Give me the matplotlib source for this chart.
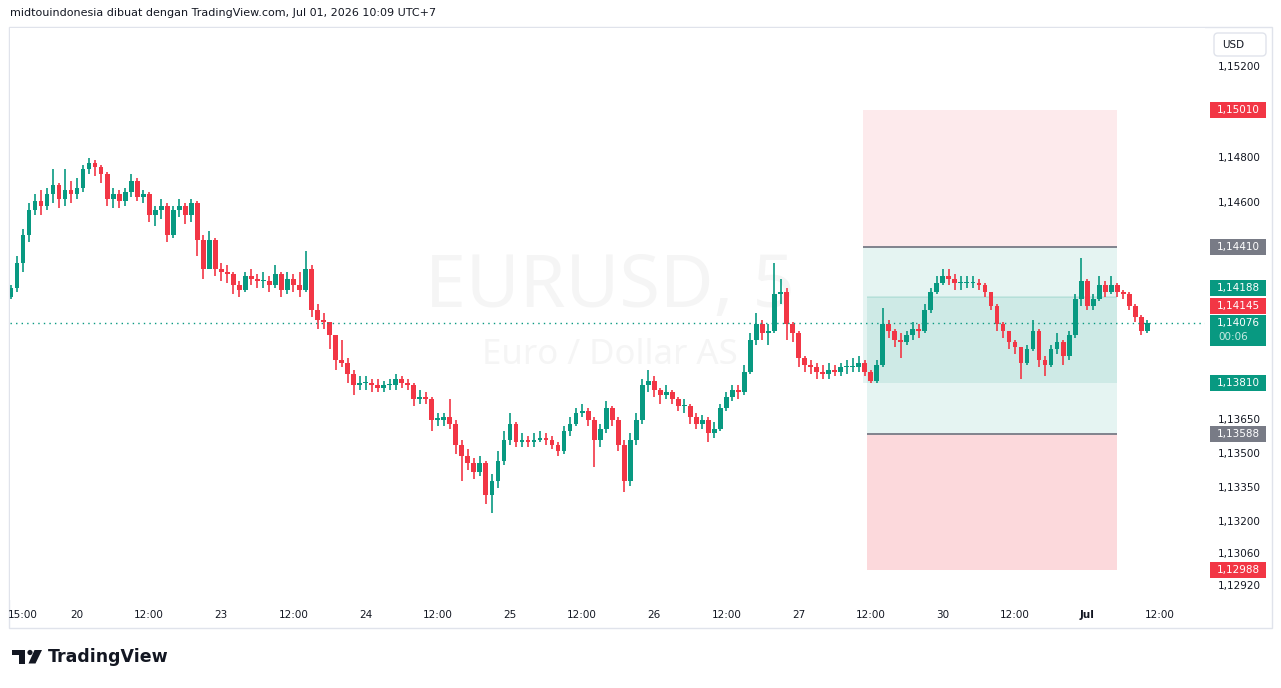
import numpy as np
import matplotlib
matplotlib.use("Agg")
import matplotlib.pyplot as plt
from matplotlib.patches import Rectangle, Polygon, Circle, FancyBboxPatch

# EURUSD, hourly candles (Jun 19 13:00 -> Jul 1 10:00, UTC+7)
first_open = 1.1419
close = [
    1.1423, 1.1434, 1.1446, 1.1457, 1.1461, 1.1459, 1.1464, 1.1468, 1.1462, 1.1466,
    1.1464, 1.1467, 1.1475, 1.1478, 1.1476, 1.1473, 1.1462, 1.1464, 1.1461, 1.1465,
    1.1470, 1.1463, 1.1464, 1.1455, 1.1457, 1.1459, 1.1446, 1.1457, 1.1459, 1.1455,
    1.1460, 1.1444, 1.1431, 1.1444, 1.1431, 1.1430, 1.1429, 1.1424, 1.1422, 1.1428,
    1.1427, 1.1426, 1.1426, 1.1424, 1.1429, 1.1422, 1.1427, 1.1424, 1.1422, 1.1431,
    1.1413, 1.1409, 1.1408, 1.1402, 1.1391, 1.1390, 1.1385, 1.1380, 1.1381, 1.1381,
    1.1380, 1.1379, 1.1380, 1.1380, 1.1383, 1.1381, 1.1380, 1.1374, 1.1375, 1.1374,
    1.1365, 1.1365, 1.1366, 1.1363, 1.1354, 1.1349, 1.1346, 1.1342, 1.1346, 1.1332,
    1.1338, 1.1347, 1.1356, 1.1363, 1.1355, 1.1356, 1.1355, 1.1356, 1.1357, 1.1356,
    1.1354, 1.1351, 1.1360, 1.1363, 1.1368, 1.1369, 1.1365, 1.1356, 1.1361, 1.1370,
    1.1365, 1.1354, 1.1338, 1.1356, 1.1365, 1.1380, 1.1382, 1.1378, 1.1376, 1.1377,
    1.1374, 1.1371, 1.1371, 1.1366, 1.1363, 1.1365, 1.1359, 1.1361, 1.1370, 1.1375,
    1.1378, 1.1377, 1.1386, 1.1400, 1.1407, 1.1403, 1.1404, 1.1420, 1.1421, 1.1407,
    1.1403, 1.1392, 1.1389, 1.1388, 1.1386, 1.1385, 1.1387, 1.1386, 1.1388, 1.1388,
    1.1388, 1.1390, 1.1386, 1.1382, 1.1389, 1.1407, 1.1404, 1.1400, 1.1399, 1.1402,
    1.1405, 1.1404, 1.1413, 1.1421, 1.1425, 1.1428, 1.1427, 1.1425, 1.1425, 1.1425,
    1.1425, 1.1424, 1.1421, 1.1415, 1.1407, 1.1404, 1.1399, 1.1397, 1.1390, 1.1396,
    1.1404, 1.1391, 1.1389, 1.1396, 1.1399, 1.1393, 1.1402, 1.1418, 1.1426, 1.1415,
    1.1418, 1.1424, 1.1421, 1.1424, 1.1421, 1.1420, 1.1415, 1.1410, 1.1404, 1.14076,
]
high = [
    1.1424, 1.1437, 1.1449, 1.1460, 1.1464, 1.1466, 1.1467, 1.1475, 1.1469, 1.1475,
    1.1470, 1.1471, 1.1477, 1.1480, 1.1479, 1.1477, 1.1474, 1.1467, 1.1466, 1.1467,
    1.1473, 1.1471, 1.1466, 1.1465, 1.1459, 1.1462, 1.1460, 1.1459, 1.1462, 1.1460,
    1.1462, 1.1461, 1.1446, 1.1448, 1.1445, 1.1434, 1.1433, 1.1430, 1.1426, 1.1430,
    1.1431, 1.1429, 1.1430, 1.1428, 1.1433, 1.1430, 1.1430, 1.1429, 1.1430, 1.1439,
    1.1433, 1.1416, 1.1412, 1.1408, 1.1402, 1.1400, 1.1392, 1.1387, 1.1384, 1.1384,
    1.1383, 1.1383, 1.1382, 1.1383, 1.1385, 1.1384, 1.1383, 1.1381, 1.1378, 1.1377,
    1.1375, 1.1368, 1.1368, 1.1374, 1.1365, 1.1356, 1.1352, 1.1348, 1.1349, 1.1347,
    1.1341, 1.1351, 1.1360, 1.1368, 1.1364, 1.1359, 1.1358, 1.1359, 1.1360, 1.1359,
    1.1358, 1.1355, 1.1362, 1.1366, 1.1370, 1.1372, 1.1370, 1.1366, 1.1363, 1.1373,
    1.1371, 1.1366, 1.1356, 1.1359, 1.1368, 1.1383, 1.1387, 1.1384, 1.1379, 1.1380,
    1.1378, 1.1375, 1.1374, 1.1372, 1.1368, 1.1367, 1.1366, 1.1364, 1.1372, 1.1377,
    1.1380, 1.1380, 1.1389, 1.1403, 1.1412, 1.1409, 1.1407, 1.1434, 1.1427, 1.1423,
    1.1408, 1.1404, 1.1393, 1.1391, 1.1390, 1.1389, 1.1390, 1.1389, 1.1390, 1.1391,
    1.1392, 1.1393, 1.1391, 1.1387, 1.1391, 1.1414, 1.1409, 1.1405, 1.1403, 1.1404,
    1.1408, 1.1407, 1.1416, 1.1423, 1.1428, 1.1431, 1.1431, 1.1429, 1.1428, 1.1428,
    1.1428, 1.1427, 1.1425, 1.1421, 1.1416, 1.1408, 1.1404, 1.1400, 1.1397, 1.1398,
    1.1409, 1.1405, 1.1393, 1.1398, 1.1403, 1.1400, 1.1404, 1.1420, 1.1436, 1.1427,
    1.1420, 1.1428, 1.1426, 1.1428, 1.1425, 1.1422, 1.1421, 1.1416, 1.1411, 1.1409,
]
low = [
    1.1418, 1.1421, 1.1430, 1.1443, 1.1455, 1.1455, 1.1457, 1.1460, 1.1458, 1.1459,
    1.1460, 1.1462, 1.1465, 1.1473, 1.1472, 1.1469, 1.1459, 1.1458, 1.1458, 1.1459,
    1.1463, 1.1461, 1.1460, 1.1452, 1.1450, 1.1453, 1.1443, 1.1445, 1.1454, 1.1451,
    1.1452, 1.1437, 1.1427, 1.1432, 1.1428, 1.1426, 1.1425, 1.1420, 1.1419, 1.1421,
    1.1424, 1.1423, 1.1423, 1.1421, 1.1423, 1.1419, 1.1420, 1.1421, 1.1419, 1.1421,
    1.1410, 1.1405, 1.1405, 1.1396, 1.1387, 1.1388, 1.1381, 1.1376, 1.1378, 1.1378,
    1.1377, 1.1377, 1.1377, 1.1378, 1.1378, 1.1379, 1.1378, 1.1371, 1.1372, 1.1372,
    1.1360, 1.1362, 1.1362, 1.1361, 1.1350, 1.1338, 1.1343, 1.1339, 1.1340, 1.1328,
    1.1324, 1.1335, 1.1345, 1.1354, 1.1353, 1.1353, 1.1353, 1.1353, 1.1355, 1.1354,
    1.1352, 1.1349, 1.1350, 1.1358, 1.1362, 1.1366, 1.1362, 1.1344, 1.1353, 1.1359,
    1.1362, 1.1351, 1.1333, 1.1336, 1.1354, 1.1363, 1.1377, 1.1375, 1.1372, 1.1374,
    1.1372, 1.1369, 1.1368, 1.1363, 1.1361, 1.1361, 1.1355, 1.1357, 1.1360, 1.1369,
    1.1373, 1.1374, 1.1376, 1.1385, 1.1398, 1.1400, 1.1398, 1.1403, 1.1416, 1.1400,
    1.1399, 1.1388, 1.1386, 1.1385, 1.1383, 1.1383, 1.1383, 1.1384, 1.1384, 1.1385,
    1.1386, 1.1386, 1.1384, 1.1381, 1.1381, 1.1388, 1.1401, 1.1397, 1.1392, 1.1398,
    1.1400, 1.1401, 1.1403, 1.1412, 1.1420, 1.1424, 1.1424, 1.1422, 1.1422, 1.1423,
    1.1423, 1.1422, 1.1419, 1.1413, 1.1404, 1.1401, 1.1396, 1.1394, 1.1383, 1.1389,
    1.1395, 1.1388, 1.1384, 1.1388, 1.1394, 1.1389, 1.1391, 1.1401, 1.1415, 1.1413,
    1.1413, 1.1417, 1.1419, 1.1420, 1.1419, 1.1418, 1.1413, 1.1408, 1.1402, 1.1403,
]

tick_pos = [2, 11, 23, 35, 47, 59, 71, 83, 95, 107, 119, 131, 143, 155, 167, 179, 191]
tick_lab = ["15:00", "20", "12:00", "23", "12:00", "24", "12:00", "25", "12:00",
            "26", "12:00", "27", "12:00", "30", "12:00", "Jul", "12:00"]
price_ticks = [1.15200, 1.14800, 1.14600, 1.13650, 1.13500, 1.13350, 1.13200, 1.13060, 1.12920]

# position tools (short on top, long below)
short_entry, short_stop, short_target = 1.14410, 1.15010, 1.13810
long_entry, long_stop, long_target = 1.13588, 1.12988, 1.14188
short_span = (141.7, 183.9)
long_span = (142.4, 183.9)
last_price = 1.14076
prev_close = 1.14145
countdown = "00:06"

GREEN = "#089981"
RED = "#F23645"
GREY = "#787B86"
TXT = "#131722"

W, H = 1281, 688
fig = plt.figure(figsize=(W / 100, H / 100), dpi=100)
fig.patch.set_facecolor("white")

ylim = (1.128571, 1.153714)
ax = fig.add_axes([10 / W, 88 / H, 1195 / W, 572 / H])
ax.set_xlim(-0.15, 198.6)
ax.set_ylim(*ylim)
for s in ax.spines.values():
    s.set_visible(False)
ax.set_yticks([])
ax.set_xticks(tick_pos, tick_lab)
ax.tick_params(axis="x", length=0, pad=7, labelsize=7.5, labelcolor=TXT)
for lab in ax.get_xticklabels():
    if lab.get_text() == "Jul":
        lab.set_fontweight("bold")

# watermark
ax.text(0.502, 0.545, "EURUSD, 5", transform=ax.transAxes, ha="center", va="center",
        fontsize=53, color="#f5f5f5", family="Noto Sans", zorder=0)
ax.text(0.502, 0.428, "Euro / Dollar AS", transform=ax.transAxes, ha="center", va="center",
        fontsize=25, color="#f5f5f5", family="Noto Sans", zorder=0)

# position boxes
def zone(x0, x1, y0, y1, color, alpha):
    ax.add_patch(Rectangle((x0, min(y0, y1)), x1 - x0, abs(y1 - y0), color=color,
                           alpha=alpha, lw=0, zorder=1))

zone(*short_span, short_entry, short_stop, RED, 0.10)
zone(*short_span, short_entry, short_target, GREEN, 0.10)
zone(*long_span, long_entry, long_target, GREEN, 0.10)
zone(*long_span, long_entry, long_stop, RED, 0.19)
ax.hlines(short_entry, *short_span, color=GREY, lw=1.3, zorder=2)
ax.hlines(long_entry, *long_span, color=GREY, lw=1.3, zorder=2)
ax.hlines(long_target, *long_span, color=GREEN, alpha=0.15, lw=1.2, zorder=2)

# candles
c = np.array(close)
o = np.r_[first_open, c[:-1]]
hi = np.maximum(np.array(high), np.maximum(o, c))
lo = np.minimum(np.array(low), np.minimum(o, c))
x = np.arange(len(c))
col = np.where(c >= o, GREEN, RED)
ax.vlines(x, lo, hi, colors=col, lw=1.2, zorder=3)
ax.bar(x, np.maximum(np.abs(c - o), 0.00005), bottom=np.minimum(o, c), width=0.8,
       color=col, zorder=4)

ax.axhline(last_price, color=GREEN, lw=1, ls=(0, (1, 3)), zorder=5)

# price scale
pax = fig.add_axes([1205 / W, 88 / H, 67 / W, 572 / H])
pax.set_xlim(0, 67)
pax.set_ylim(*ylim)
pax.axis("off")
ppx = (ylim[1] - ylim[0]) / 572  # price per pixel

for p in price_ticks:
    pax.text(13, p, f"{p:.5f}".replace(".", ","), ha="left", va="center",
             fontsize=7.5, color=TXT)

def price_label(p, color, shift=0, extra_below=0):
    yc = p + shift * ppx
    pax.add_patch(Rectangle((5, yc - (8 + extra_below) * ppx), 56, (16 + extra_below) * ppx,
                            color=color, lw=0, zorder=3))
    pax.text(33, yc, f"{p:.5f}".replace(".", ","), ha="center", va="center",
             fontsize=7.5, color="white", zorder=4)

price_label(short_stop, RED)
price_label(short_entry, GREY)
price_label(long_target, GREEN, shift=9)
price_label(prev_close, RED, shift=1.5)
price_label(last_price, GREEN, extra_below=15)
pax.text(13, last_price - 14 * ppx, countdown, ha="left", va="center",
         fontsize=7.5, color="#c8ebe4", zorder=4)
price_label(short_target, GREEN)
price_label(long_entry, GREY)
price_label(long_stop, RED)

# overlay for frame, header and logo (pixel units)
over = fig.add_axes([0, 0, 1, 1], zorder=-1)
over.set_xlim(0, W)
over.set_ylim(H, 0)
over.axis("off")
over.add_patch(Rectangle((9, 27), 1263, 601, fill=False, ec="#e0e3eb", lw=1))
over.add_patch(FancyBboxPatch((1214, 33), 52, 23, boxstyle="round,pad=0,rounding_size=4",
                              fill=False, ec="#e0e3eb", lw=1))
over.text(1222, 45, "USD", fontsize=7.5, color=TXT, va="center", ha="left")
over.text(10, 13, "midtouindonesia dibuat dengan TradingView.com, Jul 01, 2026 10:09 UTC+7",
          fontsize=8, color=TXT, va="center", ha="left")

# TradingView logo
over.add_patch(Rectangle((12, 650), 13, 5, color=TXT, lw=0))
over.add_patch(Rectangle((18.5, 650), 6.5, 13.5, color=TXT, lw=0))
over.add_patch(Circle((30, 652.5), 2.6, color=TXT, lw=0))
over.add_patch(Polygon([(34.5, 650), (42, 650), (35.5, 663.5), (28.5, 663.5)], color=TXT, lw=0))
over.text(48, 657, "TradingView", fontsize=12.5, fontweight="bold", color=TXT,
          va="center", ha="left")

fig.savefig("out.png", dpi=100)
